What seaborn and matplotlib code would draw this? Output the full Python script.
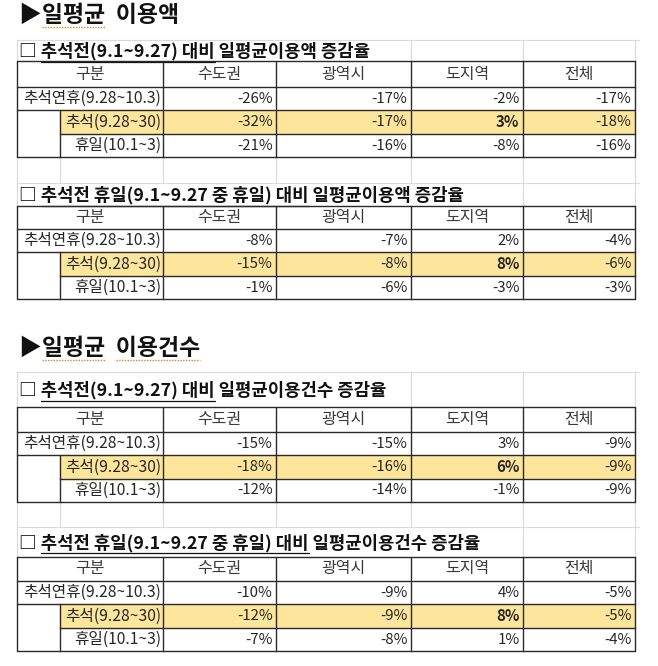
import numpy as np
import matplotlib.pyplot as plt
from matplotlib.colors import ListedColormap
from matplotlib.patches import Rectangle
import seaborn as sns

sns.set_theme(style="white")
plt.rcParams['font.family'] = ['Noto Sans CJK KR', 'DejaVu Sans']

# 데이터 (증감율, %)
regions = ["수도권", "광역시", "도지역", "전체"]
periods = ["추석연휴(9.28~10.3)", "추석(9.28~30)", "휴일(10.1~3)"]
amount_vs_before = [[-26, -17, -2, -17], [-32, -17, 3, -18], [-21, -16, -8, -16]]
amount_vs_before_holiday = [[-8, -7, 2, -4], [-15, -8, 8, -6], [-1, -6, -3, -3]]
count_vs_before = [[-15, -15, 3, -9], [-18, -16, 6, -9], [-12, -14, -1, -9]]
count_vs_before_holiday = [[-10, -9, 4, -5], [-12, -9, 8, -5], [-7, -8, 1, -4]]

section_heads = [("일평균", "이용액"), ("일평균", "이용건수")]
compare_bases = ["추석전(9.1~9.27) 대비", "추석전 휴일(9.1~9.27 중 휴일) 대비"]
measures = ["일평균이용액 증감율", "일평균이용건수 증감율"]
highlight_row = 1
bold_col = 2

# 레이아웃 (픽셀)
W, H = 658, 666
X = [17, 60, 163, 276, 411, 523, 635]
layout = [(40, 21, 26, 23.4), (183, 23, 23, 23.4), (372, 35, 25, 23.3), (527, 30, 24, 23.4)]
head_y = [15, 348]
YELLOW = "#FDE59C"
BORDER = "#2a2a2a"
GRID = "#dadada"
TXT = "#262626"

fig = plt.figure(figsize=(W / 100, H / 100), dpi=100)
bg = fig.add_axes([0, 0, 1, 1])
bg.set_xlim(0, W)
bg.set_ylim(H, 0)
bg.axis("off")
bg.set_zorder(2)
bg.patch.set_visible(False)
renderer = fig.canvas.get_renderer()


def width(s, **kw):
    t = bg.text(0, 0, s, **kw)
    w = t.get_window_extent(renderer).width
    t.remove()
    return w


def rect(x0, y0, x1, y1):
    return [x0 / W, 1 - y1 / H, (x1 - x0) / W, (y1 - y0) / H]


# 섹션 제목
head_kw = dict(fontsize=16.5, fontweight="bold", color="#111111")
for (a, b), y in zip(section_heads, head_y):
    s = "▶" + a + "  " + b
    bg.text(19, y, s, va="center", **head_kw)
    segs = [("▶", a)] if len(b) < 4 else [("▶", a), ("▶" + a + "  ", b)]
    for pre, seg in segs:
        x1 = 19 + width(pre + seg, **head_kw)
        x0 = x1 - width(seg, **head_kw)
        bg.plot([x0, x1], [y + 12, y + 12], color="#d9822b", lw=1, ls=(0, (1, 1)))

tables = [amount_vs_before, amount_vs_before_holiday, count_vs_before, count_vs_before_holiday]
for ti, vals in enumerate(tables):
    top, th, hh, rh = layout[ti]
    y_head = top + th
    y_data = y_head + hh
    ys = [y_data + k * rh for k in range(4)]
    base = compare_bases[ti % 2]
    meas = measures[ti // 2]

    # 표 제목
    title_kw = dict(fontsize=12.8, fontweight="bold", color="#111111")
    yc = (top + y_head) / 2 + 1
    full = "□ " + base + " " + meas
    bg.text(19, yc, full, va="center", **title_kw)
    x1 = 19 + width("□ " + base, **title_kw)
    x0 = x1 - width(base, **title_kw)
    bg.plot([x0, x1], [yc + 10, yc + 10], color="#111111", lw=0.9)
    right = 19 + width(full, **title_kw)

    # 연한 눈금선
    bg.plot([X[0], 639], [top, top], color=GRID, lw=0.8, zorder=0)
    bg.plot([X[0], X[0]], [top, y_head], color=GRID, lw=0.8, zorder=0)
    for x in X[1:]:
        if x > right + 2:
            bg.plot([x, x], [top, y_head], color=GRID, lw=0.8, zorder=0)
    if ti in (0, 2):
        nxt = layout[ti + 1][0]
        for x in X:
            bg.plot([x, x], [ys[-1], nxt], color=GRID, lw=0.8, zorder=0)

    # 값 셀
    arr = np.array(vals)
    for j, reg in enumerate(regions):
        ax = fig.add_axes(rect(X[j + 2], y_data, X[j + 3], ys[-1]))
        col = arr[:, [j]]
        mark = np.zeros(col.shape)
        mark[highlight_row] = 1
        labels = np.array([[f"{v}%"] for v in col[:, 0]])
        sns.heatmap(mark, ax=ax, cmap=ListedColormap(["white", YELLOW]), vmin=0, vmax=1,
                    cbar=False, annot=labels, fmt="", xticklabels=False, yticklabels=False,
                    annot_kws=dict(fontsize=10.8, color=TXT))
        pad = 1 - 3.5 / (X[j + 3] - X[j + 2])
        for k, t in enumerate(ax.texts):
            t.set_ha("right")
            t.set_x(pad)
            if k == highlight_row and j == bold_col:
                t.set_fontweight("bold")
        # 머리글
        bg.text((X[j + 2] + X[j + 3]) / 2, (y_head + y_data) / 2, reg, ha="center",
                va="center", fontsize=11.5, color="#3a3a3a")
    bg.text((X[0] + X[2]) / 2, (y_head + y_data) / 2, "구분", ha="center", va="center",
            fontsize=11.5, color="#3a3a3a")

    # 구분 열
    bg.add_patch(Rectangle((X[1], ys[1]), X[2] - X[1], rh, color=YELLOW, zorder=0))
    for k, p in enumerate(periods):
        bg.text(X[2] - 2, (ys[k] + ys[k + 1]) / 2, p, ha="right", va="center",
                fontsize=11.3, color=TXT)

    # 테두리
    lw = 1.0
    for y in (y_head, y_data, ys[1], ys[3]):
        bg.plot([X[0], X[6]], [y, y], color=BORDER, lw=lw)
    bg.plot([X[1], X[6]], [ys[2], ys[2]], color=BORDER, lw=lw)
    for x in (X[0], X[2], X[3], X[4], X[5], X[6]):
        bg.plot([x, x], [y_head, ys[3]], color=BORDER, lw=lw)
    bg.plot([X[1], X[1]], [ys[1], ys[3]], color=BORDER, lw=lw)

fig.savefig("out.png", dpi=100)
